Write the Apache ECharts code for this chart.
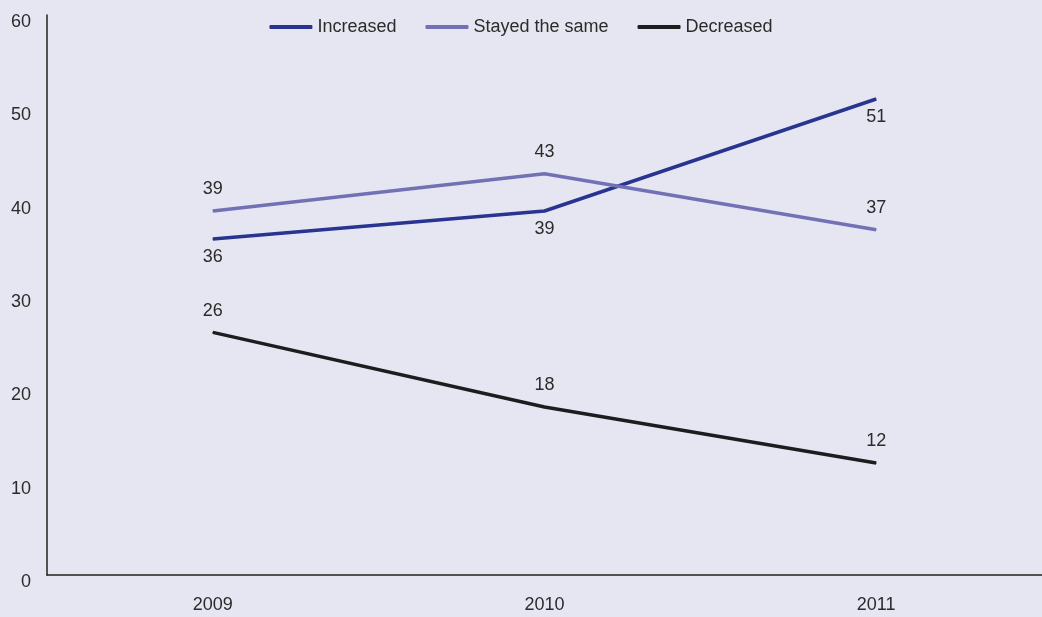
<!DOCTYPE html>
<html><head><meta charset="utf-8">
<script src="https://cdn.jsdelivr.net/npm/echarts@6/dist/echarts.min.js"></script>
<style>html,body{margin:0;padding:0;background:#e6e6f2;}#c{width:1042px;height:617px;}</style>
</head><body><div id="c"></div>
<script>
const categories = ['2009', '2010', '2011'];
const increased = [36, 39, 51];
const stayedSame = [39, 43, 37];
const decreased = [26, 18, 12];
const yTicks = [0, 10, 20, 30, 40, 50, 60];

const FONT = '"Liberation Sans Narrow", "Arial Narrow", "Liberation Sans", sans-serif';
const TXT = '#2b2b2b';
const FS = 18;

function series(name, data, color, pos, dist) {
  return {
    name, type: 'line', data, showSymbol: true, symbol: 'circle', symbolSize: 1,
    lineStyle: { color, width: 3.5 }, itemStyle: { color },
    label: { show: true, position: pos, distance: dist, color: TXT, fontSize: FS, fontFamily: FONT },
    emphasis: { disabled: true }, silent: true, animation: false
  };
}

const chart = echarts.init(document.getElementById('c'), null, { renderer: 'canvas' });
chart.setOption({
  backgroundColor: '#e6e6f2',
  animation: false,
  legend: {
    top: 13, left: 'center', itemWidth: 43, itemHeight: 4, itemGap: 29,
    icon: 'roundRect',
    textStyle: { color: TXT, fontSize: FS, fontFamily: FONT },
    data: ['Increased', 'Stayed the same', 'Decreased']
  },
  grid: { left: 47, right: 0, top: 15, bottom: 42, containLabel: false },
  xAxis: {
    type: 'category', data: categories, boundaryGap: true,
    axisLine: { lineStyle: { color: '#222', width: 1.5 } },
    axisTick: { show: false },
    axisLabel: { color: TXT, fontSize: FS, fontFamily: FONT, margin: 21 },
    splitLine: { show: false }
  },
  yAxis: {
    type: 'value', min: yTicks[0], max: yTicks[yTicks.length - 1], interval: 10,
    axisLine: { show: true, lineStyle: { color: '#222', width: 1.5 } },
    axisTick: { show: false },
    splitLine: { show: false },
    axisLabel: { color: TXT, fontSize: FS, fontFamily: FONT, margin: 16, verticalAlign: 'top', lineHeight: 14,
      formatter: v => yTicks.includes(v) ? String(v) : '' }
  },
  series: [
    series('Increased', increased, '#28348f', 'bottom', 9),
    series('Stayed the same', stayedSame, '#7371b6', 'top', 12),
    series('Decreased', decreased, '#1f1c1e', 'top', 12)
  ]
});
</script></body></html>
